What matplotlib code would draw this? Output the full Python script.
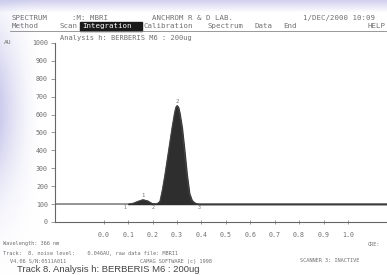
import numpy as np
import matplotlib.pyplot as plt
from matplotlib.patches import Rectangle

# densitogram trace (Rf, AU)
rf = [-0.2, 0.10, 0.12, 0.14, 0.16, 0.18, 0.19, 0.20, 0.21, 0.22, 0.23, 0.24, 0.25,
      0.26, 0.27, 0.28, 0.29, 0.295, 0.30, 0.305, 0.31, 0.32, 0.33, 0.34, 0.35,
      0.36, 0.37, 0.38, 0.39, 1.16]
au = [100, 100, 104, 115, 124, 117, 108, 102, 101, 103, 115, 180, 260,
      350, 440, 530, 610, 640, 650, 640, 610, 525, 400, 265, 160,
      122, 108, 102, 100, 100]

peak_ids = ['1', '2']
peak_rf = [0.16, 0.30]
peak_top = [124, 650]
bound_ids = ['1', '2', '3']
bound_rf = [0.085, 0.20, 0.39]
baseline = 100

xticks = [0.0, 0.1, 0.2, 0.3, 0.4, 0.5, 0.6, 0.7, 0.8, 0.9, 1.0]
yticks = [0, 100, 200, 300, 400, 500, 600, 700, 800, 900, 1000]

grey = '#707070'
mono = 'DejaVu Sans Mono'

fig = plt.figure(figsize=(3.87, 2.75), dpi=100)
fig.patch.set_facecolor('white')

# photographed screen: soft bluish tint along top and left border
bg = fig.add_axes([0, 0, 1, 1], zorder=-5)
bg.axis('off')
yy, xx = np.mgrid[0:275, 0:387]
top = np.clip(1 - yy / 12.0, 0, 1) * 0.9
left = np.clip(1 - xx / 40.0, 0, 1) ** 1.5 * np.exp(-((yy - 110) / 80.0) ** 2)
tint = np.clip(top + left, 0, 1)
rgb = np.ones((275, 387, 3))
col = np.array([0.80, 0.80, 0.93])
rgb = rgb * (1 - tint[..., None]) + col * tint[..., None]
bg.imshow(rgb, aspect='auto', extent=(0, 1, 0, 1), interpolation='bilinear')
bg.set_xlim(0, 1)
bg.set_ylim(0, 1)

ax = fig.add_axes([0.142, 0.193, 0.858, 0.651])
ax.set_facecolor('none')
ax.plot(rf, au, color='#444444', lw=0.8)
ax.fill_between(rf, au, baseline, where=[0.09 <= r <= 0.39 for r in rf],
                color='#2e2e2e', interpolate=True)

for pid, x, y in zip(peak_ids, peak_rf, peak_top):
    ax.text(x, y + 8, pid, fontsize=4, family=mono, color=grey,
            ha='center', va='bottom')
for bid, x in zip(bound_ids, bound_rf):
    ax.text(x, baseline - 5, bid, fontsize=3.5, family=mono, color=grey,
            ha='center', va='top')

ax.set_xlim(-0.2, 1.16)
ax.set_ylim(0, 1000)
ax.set_xticks(xticks)
ax.set_xticklabels(['%.1f' % t for t in xticks])
ax.set_yticks(yticks)
ax.set_yticklabels([str(t) for t in yticks])
for s in ['top', 'right']:
    ax.spines[s].set_visible(False)
for s in ['left', 'bottom']:
    ax.spines[s].set_color('#666666')
    ax.spines[s].set_linewidth(0.8)
ax.tick_params(axis='both', colors='#888888', labelcolor=grey, labelsize=4.8,
               length=3, width=0.6, pad=2)
ax.tick_params(axis='x', direction='inout', pad=6)
for lab in ax.get_xticklabels() + ax.get_yticklabels():
    lab.set_family(mono)

# screen texts (pixel positions of the original screenshot)
W, H = 387.0, 275.0


def t(x, y, s, size=5.3, **kw):
    kw.setdefault('family', mono)
    kw.setdefault('color', grey)
    fig.text(x / W, 1 - y / H, s, fontsize=size, va='center', ha='left', **kw)


t(12, 18, 'SPECTRUM')
t(72, 18, ':M: MBRI')
t(152, 18, 'ANCHROM R & D LAB.')
t(303, 18, '1/DEC/2000 10:09')
t(12, 26, 'Method')
t(60, 26, 'Scan')
fig.patches.append(Rectangle((80 / W, 1 - 30.5 / H), 62 / W, 9 / H,
                             transform=fig.transFigure, color='#1a1a1a', zorder=1))
t(82, 26, 'Integration', color='white')
t(144, 26, 'Calibration')
t(208, 26, 'Spectrum')
t(255, 26, 'Data')
t(283, 26, 'End')
t(368, 26, 'HELP')
fig.add_artist(plt.Line2D([10 / W, 1], [1 - 30.5 / H] * 2, transform=fig.transFigure,
                          color='#888888', lw=0.6))
t(60, 38, 'Analysis h: BERBERIS M6 : 200ug', size=5.0)
t(4, 43, 'AU', size=4.5)

t(3, 244, 'Wavelength: 366 nm', size=3.8)
t(368, 244, 'CRE:', size=3.8)
t(3, 253, 'Track:  8. noise level:    0.046AU, raw data file: MBRI1', size=3.8)
t(10, 261, 'V4.06 S/N:0511A011', size=3.8)
t(140, 261, 'CAMAG SOFTWARE (c) 1998', size=3.8)
t(300, 261, 'SCANNER 3: INACTIVE', size=3.8)
t(17, 270, 'Track 8. Analysis h: BERBERIS M6 : 200ug', size=6.8,
  family='Liberation Sans', color='#444444')

fig.savefig('out.png', dpi=100)
